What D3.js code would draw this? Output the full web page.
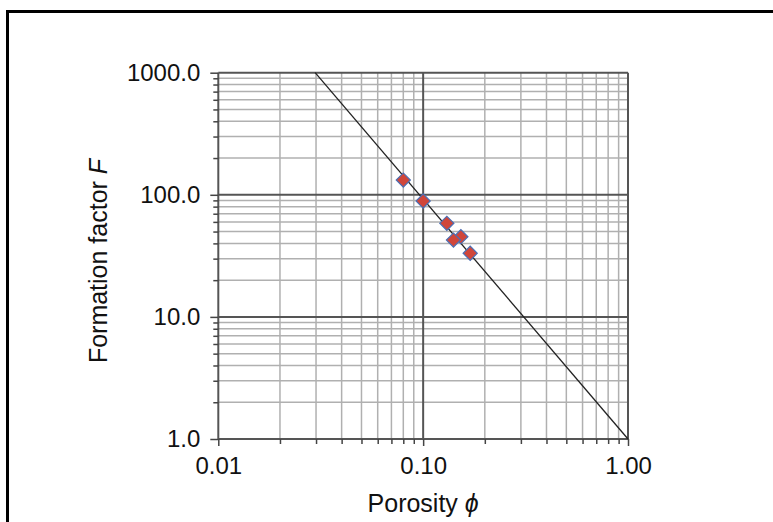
<!DOCTYPE html>
<html><head><meta charset="utf-8">
<script src="https://cdn.jsdelivr.net/npm/d3@7/dist/d3.min.js"></script>
<style>body{margin:0;background:#fff}svg{display:block}text{font-family:"Liberation Sans",Arial,sans-serif}</style>
</head><body>
<script>
const porosity = [0.080, 0.100, 0.1305, 0.1528, 0.1406, 0.1697];
const formationFactor = [132, 89, 58.4, 45.4, 42.6, 33.2];
const fitLineX = [0.0297, 1.0];
const fitLineY = [1000, 1];
const xTickValues = [0.01, 0.1, 1];
const xTickLabels = ["0.01", "0.10", "1.00"];
const yTickValues = [1, 10, 100, 1000];
const yTickLabels = ["1.0", "10.0", "100.0", "1000.0"];

const W = 773, H = 522;
const svg = d3.select("body").append("svg").attr("width", W).attr("height", H);
svg.append("rect").attr("x", 7.5).attr("y", 11.5).attr("width", 800).attr("height", 600)
  .attr("fill", "none").attr("stroke", "#000").attr("stroke-width", 3);

const x = d3.scaleLog().domain([0.01, 1]).range([218.3, 628]);
const y = d3.scaleLog().domain([1, 1000]).range([439, 72.7]);

const minorX = [], minorY = [];
[0.01, 0.1].forEach(d => { for (let k = 2; k <= 9; k++) minorX.push(d * k); });
[1, 10, 100].forEach(d => { for (let k = 2; k <= 9; k++) minorY.push(d * k); });

const g = svg.append("g");
g.selectAll(".mx").data(minorX).join("line")
  .attr("x1", d => x(d)).attr("x2", d => x(d)).attr("y1", y(1000)).attr("y2", y(1))
  .attr("stroke", "#b0b0b0").attr("stroke-width", 1.5);
g.selectAll(".my").data(minorY).join("line")
  .attr("x1", x(0.01)).attr("x2", x(1)).attr("y1", d => y(d)).attr("y2", d => y(d))
  .attr("stroke", "#b0b0b0").attr("stroke-width", 1.5);
g.selectAll(".Mx").data(xTickValues).join("line")
  .attr("x1", d => x(d)).attr("x2", d => x(d)).attr("y1", y(1000)).attr("y2", y(1))
  .attr("stroke", "#555").attr("stroke-width", 2);
g.selectAll(".My").data(yTickValues).join("line")
  .attr("x1", x(0.01)).attr("x2", x(1)).attr("y1", d => y(d)).attr("y2", d => y(d))
  .attr("stroke", "#555").attr("stroke-width", 2);

const xAxisMinor = d3.axisBottom(x).tickValues(minorX).tickSize(5).tickFormat("");
const xAxisMajor = d3.axisBottom(x).tickValues(xTickValues).tickSize(7)
  .tickFormat((d, i) => xTickLabels[i]).tickPadding(11);
const yAxisMinor = d3.axisLeft(y).tickValues(minorY).tickSize(5).tickFormat("");
const yAxisMajor = d3.axisLeft(y).tickValues(yTickValues).tickSize(8)
  .tickFormat((d, i) => yTickLabels[i]).tickPadding(10);

function style(sel){
  sel.select(".domain").remove();
  sel.selectAll(".tick line").attr("stroke", "#444").attr("stroke-width", 1.5);
  sel.selectAll("text").attr("fill", "#111").style("font-size", "24px")
    .style("font-family", '"Liberation Sans", Arial, sans-serif');
}
svg.append("g").attr("transform", `translate(0,${y(1)})`).call(xAxisMinor).call(style);
svg.append("g").attr("transform", `translate(0,${y(1)})`).call(xAxisMajor).call(style);
svg.append("g").attr("transform", `translate(${x(0.01)},0)`).call(yAxisMinor).call(style);
svg.append("g").attr("transform", `translate(${x(0.01)},0)`).call(yAxisMajor).call(style);

svg.append("line")
  .attr("x1", x(fitLineX[0])).attr("y1", y(fitLineY[0]))
  .attr("x2", x(fitLineX[1])).attr("y2", y(fitLineY[1]))
  .attr("stroke", "#222").attr("stroke-width", 1.3);

svg.selectAll(".pt").data(porosity).join("path")
  .attr("d", d3.symbol().type(d3.symbolSquare).size(100)())
  .attr("transform", (d, i) => `translate(${x(d)},${y(formationFactor[i])}) rotate(45)`)
  .attr("fill", "#d0463a").attr("stroke", "#4a6fb5").attr("stroke-width", 1.2);

const xt = svg.append("text").attr("x", x(0.1)).attr("y", 512).attr("text-anchor", "middle")
  .style("font-size", "25px").attr("fill", "#111");
xt.append("tspan").text("Porosity ");
xt.append("tspan").text("\u03d5").style("font-style", "italic");
const yt = svg.append("text").attr("transform", `translate(107,261) rotate(-90)`)
  .attr("text-anchor", "middle").style("font-size", "25px").attr("fill", "#111");
yt.append("tspan").text("Formation factor ");
yt.append("tspan").text("F").style("font-style", "italic");
</script>
</body></html>
